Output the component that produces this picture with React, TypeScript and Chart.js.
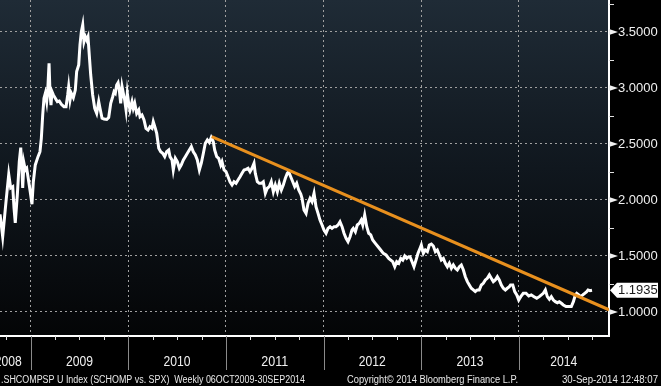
import { useEffect, useRef } from "react";
import { Chart, registerables } from "chart.js";

Chart.register(...registerables);

// ---- Data: SHCOMPSP U Index (SCHOMP vs. SPX), weekly, [decimal year, ratio] ----
const ratioLate2008Mid2009: [number, number][] = [
  [2008.686, 1.872], [2008.713, 1.672], [2008.747, 1.985], [2008.775, 2.229], [2008.795, 2.107],
  [2008.816, 2.119], [2008.829, 1.929], [2008.842, 1.795], [2008.863, 2.045], [2008.883, 2.342],
  [2008.898, 2.467], [2008.911, 2.253], [2008.918, 2.107], [2008.931, 2.328], [2008.945, 2.268],
  [2008.959, 2.283], [2008.980, 2.163], [2009.0, 2.045], [2009.013, 1.962], [2009.027, 2.163],
  [2009.047, 2.313], [2009.075, 2.387], [2009.095, 2.431], [2009.109, 2.551], [2009.123, 2.759],
  [2009.136, 2.908], [2009.15, 2.953], [2009.164, 2.878], [2009.174, 2.967], [2009.188, 3.221],
  [2009.198, 2.953], [2009.208, 2.848], [2009.218, 2.967], [2009.232, 2.938], [2009.252, 2.908],
  [2009.273, 2.878], [2009.293, 2.884], [2009.314, 2.855], [2009.341, 2.833], [2009.362, 2.833],
  [2009.379, 2.938], [2009.389, 3.012], [2009.403, 2.893], [2009.416, 2.953], [2009.437, 2.914],
  [2009.457, 2.982], [2009.471, 3.146], [2009.492, 3.206], [2009.505, 3.384], [2009.519, 3.503],
  [2009.533, 3.563], [2009.546, 3.414], [2009.56, 3.458], [2009.574, 3.429], [2009.587, 3.458],
  [2009.6, 3.295], [2009.615, 3.116], [2009.635, 2.938], [2009.656, 2.819], [2009.676, 2.774],
  [2009.697, 2.878], [2009.71, 2.819], [2009.731, 2.73], [2009.751, 2.723], [2009.779, 2.719],
  [2009.799, 2.737],
];
const ratioLate2009Late2010: [number, number][] = [
  [2009.82, 2.863], [2009.84, 2.922], [2009.854, 2.967], [2009.867, 2.953], [2009.881, 3.027],
  [2009.895, 3.047], [2009.908, 2.982], [2009.922, 2.863], [2009.936, 3.012], [2009.949, 2.953],
  [2009.963, 2.893], [2009.977, 2.804], [2009.99, 2.953], [2010.004, 2.863], [2010.017, 2.804],
  [2010.038, 2.878], [2010.051, 2.819], [2010.066, 2.863], [2010.086, 2.774], [2010.107, 2.804],
  [2010.12, 2.744], [2010.14, 2.759], [2010.161, 2.714], [2010.181, 2.64], [2010.202, 2.625],
  [2010.222, 2.654], [2010.243, 2.64], [2010.256, 2.699], [2010.277, 2.64], [2010.291, 2.596],
  [2010.312, 2.462], [2010.332, 2.431], [2010.352, 2.417], [2010.373, 2.387], [2010.393, 2.431],
  [2010.414, 2.446], [2010.427, 2.387], [2010.448, 2.357], [2010.461, 2.268], [2010.482, 2.372],
  [2010.502, 2.342], [2010.523, 2.283], [2010.543, 2.313], [2010.564, 2.357], [2010.584, 2.387],
  [2010.605, 2.417], [2010.625, 2.446], [2010.646, 2.476], [2010.666, 2.431], [2010.687, 2.402],
  [2010.707, 2.357], [2010.728, 2.268], [2010.748, 2.328], [2010.769, 2.417], [2010.789, 2.506],
  [2010.81, 2.536], [2010.83, 2.513], [2010.85, 2.558],
];
const ratioLate2010Late2011: [number, number][] = [
  [2010.871, 2.521], [2010.885, 2.446], [2010.906, 2.387], [2010.926, 2.372], [2010.947, 2.313],
  [2010.96, 2.342], [2010.981, 2.268], [2011.001, 2.253], [2011.022, 2.208], [2011.042, 2.163],
  [2011.063, 2.134], [2011.083, 2.163], [2011.104, 2.149], [2011.124, 2.179], [2011.145, 2.208],
  [2011.165, 2.238], [2011.186, 2.268], [2011.206, 2.274], [2011.227, 2.283], [2011.247, 2.253],
  [2011.267, 2.283], [2011.288, 2.328], [2011.301, 2.238], [2011.322, 2.163], [2011.342, 2.149],
  [2011.363, 2.149], [2011.383, 2.163], [2011.404, 2.06], [2011.424, 2.105], [2011.445, 2.119],
  [2011.465, 2.163], [2011.486, 2.074], [2011.506, 2.134], [2011.527, 2.074], [2011.547, 2.149],
  [2011.568, 2.089], [2011.588, 2.134], [2011.609, 2.194], [2011.629, 2.238], [2011.643, 2.253],
  [2011.664, 2.208], [2011.685, 2.163], [2011.705, 2.119], [2011.725, 2.149], [2011.746, 2.089],
];
const ratioLate2011Late2012: [number, number][] = [
  [2011.767, 2.054], [2011.78, 2.015], [2011.8, 1.911], [2011.821, 1.881], [2011.841, 1.97],
  [2011.862, 2.015], [2011.882, 1.985], [2011.903, 2.06], [2011.923, 1.94], [2011.944, 1.881],
  [2011.964, 1.821], [2011.985, 1.777], [2012.005, 1.732], [2012.026, 1.703], [2012.046, 1.747],
  [2012.067, 1.762], [2012.087, 1.747], [2012.108, 1.762], [2012.128, 1.762], [2012.149, 1.777],
  [2012.169, 1.806], [2012.19, 1.762], [2012.21, 1.703], [2012.231, 1.658], [2012.251, 1.628],
  [2012.272, 1.672], [2012.292, 1.732], [2012.305, 1.747], [2012.326, 1.717], [2012.346, 1.777],
  [2012.367, 1.792], [2012.387, 1.821], [2012.402, 1.777], [2012.422, 1.866], [2012.443, 1.762],
  [2012.463, 1.703], [2012.484, 1.688], [2012.504, 1.643], [2012.531, 1.613], [2012.559, 1.583],
  [2012.586, 1.554], [2012.613, 1.524], [2012.641, 1.509], [2012.668, 1.479], [2012.689, 1.464],
  [2012.709, 1.449], [2012.73, 1.404], [2012.75, 1.449], [2012.771, 1.435], [2012.791, 1.479],
  [2012.812, 1.464], [2012.832, 1.5], [2012.853, 1.479], [2012.873, 1.494],
];
const ratioLate2012Late2013: [number, number][] = [
  [2012.886, 1.494], [2012.907, 1.449], [2012.927, 1.404], [2012.948, 1.464], [2012.968, 1.524],
  [2012.989, 1.569], [2013.002, 1.598], [2013.023, 1.524], [2013.043, 1.554], [2013.064, 1.539],
  [2013.084, 1.598], [2013.105, 1.607], [2013.125, 1.589], [2013.146, 1.539], [2013.166, 1.554],
  [2013.187, 1.509], [2013.207, 1.464], [2013.228, 1.479], [2013.248, 1.435], [2013.269, 1.404],
  [2013.289, 1.435], [2013.31, 1.39], [2013.33, 1.42], [2013.351, 1.39], [2013.371, 1.375],
  [2013.392, 1.404], [2013.412, 1.42], [2013.433, 1.375], [2013.453, 1.315], [2013.474, 1.271],
  [2013.494, 1.241], [2013.514, 1.212], [2013.535, 1.197], [2013.555, 1.182], [2013.576, 1.197],
  [2013.596, 1.197], [2013.617, 1.241], [2013.637, 1.256], [2013.658, 1.286], [2013.678, 1.301],
  [2013.699, 1.331], [2013.719, 1.301], [2013.74, 1.271], [2013.76, 1.286], [2013.781, 1.315],
  [2013.801, 1.286], [2013.822, 1.241], [2013.842, 1.212], [2013.863, 1.197], [2013.883, 1.212],
  [2013.904, 1.226],
];
const ratioLate2013Sep2014: [number, number][] = [
  [2013.916, 1.241], [2013.939, 1.241], [2013.959, 1.182], [2013.98, 1.152], [2014.0, 1.107],
  [2014.021, 1.137], [2014.047, 1.167], [2014.075, 1.167], [2014.103, 1.143], [2014.129, 1.152],
  [2014.157, 1.137], [2014.185, 1.122], [2014.211, 1.137], [2014.232, 1.152], [2014.252, 1.167],
  [2014.273, 1.197], [2014.293, 1.137], [2014.314, 1.113], [2014.334, 1.137], [2014.355, 1.107],
  [2014.375, 1.092], [2014.396, 1.083], [2014.416, 1.092], [2014.437, 1.078], [2014.457, 1.063],
  [2014.485, 1.048], [2014.512, 1.048], [2014.539, 1.048], [2014.56, 1.092], [2014.58, 1.152],
  [2014.594, 1.167], [2014.615, 1.152], [2014.635, 1.137], [2014.656, 1.152], [2014.676, 1.167],
  [2014.697, 1.182], [2014.71, 1.197], [2014.731, 1.19], [2014.751, 1.1935],
];

const trendDates = [2010.854, 2014.925];
const trendValues = [2.565, 1.02];

const xMin = 2008.6855;
const xMax = 2014.925;
const yMin = 0.7857;
const yMax = 3.7857;

const yearLabels = ["2008", "2009", "2010", "2011", "2012", "2013", "2014"];
const yearBoundaries = [2009, 2010, 2011, 2012, 2013, 2014];
const yTickValues = [1.0, 1.5, 2.0, 2.5, 3.0, 3.5];
const yTickLabels = ["1.0000", "1.5000", "2.0000", "2.5000", "3.0000", "3.5000"];
const yMinorTickValues = [1.25, 1.75, 2.25, 2.75, 3.25, 3.75];
const lastValue = 1.1935;
const lastValueLabel = "1.1935";
const footerLeft = ".SHCOMPSP U Index (SCHOMP vs. SPX)  Weekly 06OCT2009-30SEP2014";
const footerMid = "Copyright\u00a9 2014 Bloomberg Finance L.P.";
const footerRight = "30-Sep-2014 12:48:07";

function fitText(
  ctx: CanvasRenderingContext2D,
  text: string,
  x: number,
  y: number,
  w: number,
  align: "left" | "center" | "right"
) {
  const m = ctx.measureText(text).width;
  const lx = align === "left" ? x : align === "center" ? x - w / 2 : x - w;
  ctx.save();
  ctx.translate(lx, y);
  ctx.scale(w / m, 1);
  ctx.textAlign = "left";
  ctx.fillText(text, 0, 0);
  ctx.restore();
}

const bloombergPlugin = {
  id: "bloomberg",
  beforeDraw(chart: any) {
    const { ctx, chartArea } = chart;
    const { left, right, top, bottom } = chartArea;
    ctx.save();
    ctx.fillStyle = "#000000";
    ctx.fillRect(0, 0, chart.width, chart.height);
    const g = ctx.createLinearGradient(0, top, 0, bottom);
    g.addColorStop(0, "#1f2b36");
    g.addColorStop(0.5, "#10171e");
    g.addColorStop(1, "#040506");
    ctx.fillStyle = g;
    ctx.fillRect(left, top, right - left, bottom - top);
    ctx.restore();
  },
  afterDraw(chart: any) {
    const { ctx, chartArea } = chart;
    const { right, bottom } = chartArea;
    const xs = chart.scales.x;
    const ys = chart.scales.y;
    ctx.save();

    // year boundary lines below the axis
    ctx.strokeStyle = "#8a8a8a";
    ctx.lineWidth = 1;
    for (const yr of yearBoundaries) {
      const px = Math.round(xs.getPixelForValue(yr)) + 0.5;
      ctx.beginPath();
      ctx.moveTo(px, bottom);
      ctx.lineTo(px, bottom + 34);
      ctx.stroke();
    }
    // quarterly ticks
    ctx.strokeStyle = "#e0e0e0";
    for (let yr = 2008; yr <= 2014; yr++) {
      for (const q of [0.25, 0.5, 0.75]) {
        const v = yr + q;
        if (v <= xs.min || v >= xs.max) continue;
        const px = Math.round(xs.getPixelForValue(v)) + 0.5;
        ctx.beginPath();
        ctx.moveTo(px, bottom);
        ctx.lineTo(px, bottom + 4);
        ctx.stroke();
      }
    }
    // year labels
    ctx.fillStyle = "#f0f0f0";
    ctx.font = "15px 'Liberation Sans', Arial, sans-serif";
    ctx.textBaseline = "middle";
    yearLabels.forEach((lab) => {
      const yr = Number(lab);
      const a = Math.max(xs.min, yr);
      const b = Math.min(xs.max, yr + 1);
      const pa = xs.getPixelForValue(a);
      const pb = xs.getPixelForValue(b);
      if (yr < xs.min) fitText(ctx, lab, pb - 9, 362, 27, "right");
      else fitText(ctx, lab, (pa + pb) / 2, 362, 27, "center");
    });

    // y axis minor ticks
    ctx.strokeStyle = "#e0e0e0";
    ctx.lineWidth = 1;
    for (const v of yMinorTickValues) {
      const py = Math.round(ys.getPixelForValue(v)) + 0.5;
      ctx.beginPath();
      ctx.moveTo(right, py);
      ctx.lineTo(right + 5, py);
      ctx.stroke();
    }
    // y labels with pointers
    ctx.font = "13px 'Liberation Sans', Arial, sans-serif";
    ctx.textBaseline = "middle";
    yTickValues.forEach((v, i) => {
      const py = ys.getPixelForValue(v);
      ctx.fillStyle = "#f0f0f0";
      ctx.beginPath();
      ctx.moveTo(right, py - 3);
      ctx.lineTo(right + 9, py);
      ctx.lineTo(right, py + 3);
      ctx.closePath();
      ctx.fill();
      ctx.fillText(yTickLabels[i], right + 9, py + 0.5);
    });

    // last value box
    const ly = ys.getPixelForValue(lastValue);
    ctx.fillStyle = "#ffffff";
    ctx.beginPath();
    ctx.moveTo(right + 1, ly);
    ctx.lineTo(right + 8, ly - 7.5);
    ctx.lineTo(right + 49, ly - 7.5);
    ctx.lineTo(right + 49, ly + 7.5);
    ctx.lineTo(right + 8, ly + 7.5);
    ctx.closePath();
    ctx.fill();
    ctx.fillStyle = "#1a1a1a";
    ctx.fillText(lastValueLabel, right + 9, ly + 0.5);

    // footer
    ctx.fillStyle = "#e8e8e8";
    ctx.font = "10px 'Liberation Sans', Arial, sans-serif";
    ctx.textBaseline = "alphabetic";
    fitText(ctx, footerLeft, 1, 383, 304, "left");
    fitText(ctx, footerMid, 347, 383, 171, "left");
    fitText(ctx, footerRight, 562, 383, 96, "left");
    ctx.restore();
  },
};

export default function App() {
  const ref = useRef<HTMLCanvasElement | null>(null);
  useEffect(() => {
    document.body.style.margin = "0";
    document.body.style.background = "#000";
    const canvas = ref.current;
    if (!canvas) return;
    const ratio = [
      ...ratioLate2008Mid2009,
      ...ratioLate2009Late2010,
      ...ratioLate2010Late2011,
      ...ratioLate2011Late2012,
      ...ratioLate2012Late2013,
      ...ratioLate2013Sep2014,
    ].map(([x, y]) => ({ x, y }));
    const trend = trendDates.map((x, i) => ({ x, y: trendValues[i] }));
    const chart = new Chart(canvas, {
      type: "line",
      data: {
        datasets: [
          {
            data: trend,
            borderColor: "#e8901e",
            borderWidth: 3,
            pointRadius: 0,
            order: 0,
          },
          {
            data: ratio,
            borderColor: "#ffffff",
            borderWidth: 3,
            pointRadius: 0,
            tension: 0,
            order: 1,
          },
        ],
      },
      options: {
        responsive: false,
        animation: false,
        events: [],
        parsing: false as any,
        layout: { padding: { left: 0, top: 0, right: 52, bottom: 50 } },
        plugins: { legend: { display: false }, tooltip: { enabled: false } },
        scales: {
          x: {
            type: "linear",
            min: xMin,
            max: xMax,
            afterBuildTicks: (axis: any) => {
              axis.ticks = yearBoundaries.map((v) => ({ value: v }));
            },
            afterFit: (axis: any) => {
              axis.height = 0;
            },
            ticks: { display: false },
            grid: { color: "#a0a0a0", lineWidth: 1, drawTicks: false },
            border: { display: true, color: "#ffffff", width: 2, dash: [2, 3] },
          },
          y: {
            type: "linear",
            position: "right",
            min: yMin,
            max: yMax,
            afterBuildTicks: (axis: any) => {
              axis.ticks = yTickValues.map((v) => ({ value: v }));
            },
            afterFit: (axis: any) => {
              axis.width = 0;
            },
            ticks: { display: false },
            grid: { color: "#a0a0a0", lineWidth: 1, drawTicks: false },
            border: { display: true, color: "#ffffff", width: 2, dash: [2, 3] },
          },
        },
      },
      plugins: [bloombergPlugin],
    });
    return () => chart.destroy();
  }, []);
  return (
    <div style={{ width: 661, height: 386, background: "#000" }}>
      <canvas ref={ref} width={661} height={386} style={{ display: "block" }} />
    </div>
  );
}
